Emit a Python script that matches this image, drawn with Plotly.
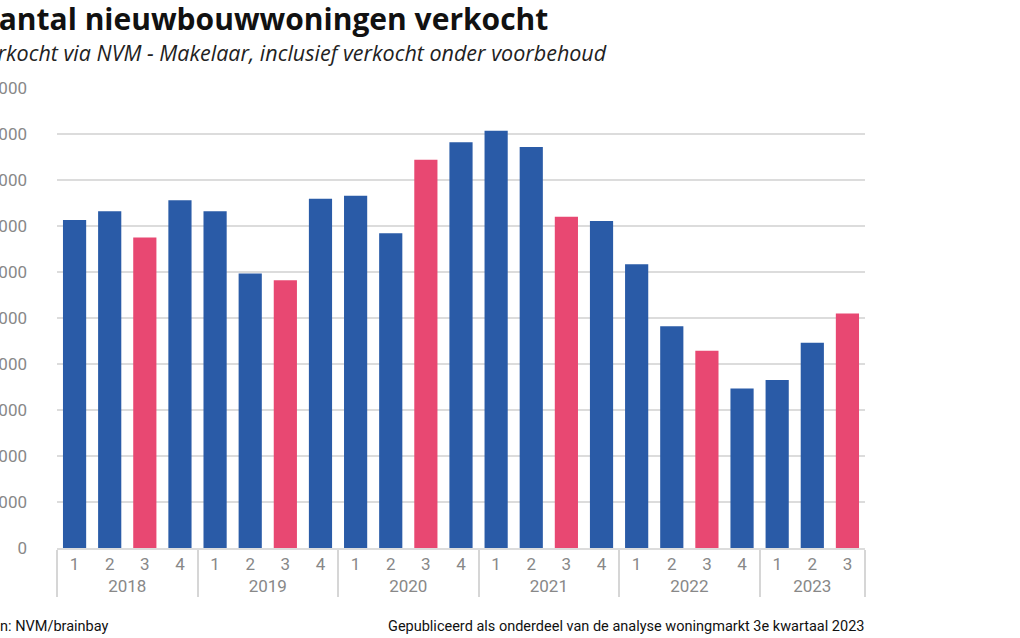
import plotly.graph_objects as go

years = ["2018"] * 4 + ["2019"] * 4 + ["2020"] * 4 + ["2021"] * 4 + ["2022"] * 4 + ["2023"] * 3
quarters = ["1", "2", "3", "4"] * 5 + ["1", "2", "3"]
sold = [7130, 7320, 6750, 7560,
        7320, 5970, 5820, 7590,
        7660, 6840, 8440, 8820,
        9070, 8720, 7200, 7110,
        6170, 4820, 4290, 3470,
        3650, 4460, 5100]
y_ticks = [0, 1000, 2000, 3000, 4000, 5000, 6000, 7000, 8000, 9000, 10000]
y_tick_text = ["0", "1.000", "2.000", "3.000", "4.000", "5.000", "6.000", "7.000", "8.000", "9.000", "10.000"]

title = "Aantal nieuwbouwwoningen verkocht"
subtitle = "Verkocht via NVM - Makelaar, inclusief verkocht onder voorbehoud"
source = "Bron: NVM/brainbay"
note = "Gepubliceerd als onderdeel van de analyse woningmarkt 3e kwartaal 2023"

BLUE = "#2a5ba7"
PINK = "#e84872"
colors = [PINK if q == "3" else BLUE for q in quarters]

W, H = 1020, 638
L, R, T, B = 57, 865, 88, 548


def px(p):
    return (p - L) / (R - L)


def py(p):
    return (B - p) / (B - T)


fig = go.Figure(go.Bar(x=[years, quarters], y=sold, marker_color=colors, marker_line_width=0,
                       hoverinfo="skip"))

fig.update_layout(
    width=W, height=H,
    margin=dict(l=L, r=W - R, t=T, b=H - B, autoexpand=False),
    paper_bgcolor="white", plot_bgcolor="white",
    bargap=0.34,
    showlegend=False,
    font=dict(family="Roboto, sans-serif", color="#888888", size=16),
)
fig.update_yaxes(
    range=[0, 10000], tickvals=y_ticks, ticktext=y_tick_text, automargin=False,
    showgrid=True, gridcolor="#dcdcdc", gridwidth=2, zeroline=False,
    ticklabelstandoff=29, tickfont=dict(family="Roboto, sans-serif", size=17, color="#888888"),
)
fig.update_xaxes(
    type="multicategory", showline=True, linecolor="#dcdcdc", linewidth=2, automargin=False,
    showdividers=True, dividercolor="#d6d6d6", dividerwidth=2,
    tickfont=dict(family="Roboto, sans-serif", size=17, color="#888888"),
)

fig.add_annotation(text="<b>" + title + "</b>", xref="paper", yref="paper",
                   x=px(-24), y=py(18), xanchor="left", yanchor="middle", showarrow=False,
                   font=dict(family="Open Sans, sans-serif", size=30, color="#111111"))
fig.add_annotation(text="<i>" + subtitle + "</i>", xref="paper", yref="paper",
                   x=px(-27), y=py(52), xanchor="left", yanchor="middle", showarrow=False,
                   font=dict(family="Open Sans, sans-serif", size=21.5, color="#222222"))
fig.add_annotation(text=source, xref="paper", yref="paper",
                   x=px(-24), y=py(626), xanchor="left", yanchor="middle", showarrow=False,
                   font=dict(family="Roboto, sans-serif", size=14.5, color="#111111"))
fig.add_annotation(text=note, xref="paper", yref="paper",
                   x=px(866), y=py(626), xanchor="right", yanchor="middle", showarrow=False,
                   font=dict(family="Roboto, sans-serif", size=14.5, color="#111111"))

fig.write_html("out.html", config={"displayModeBar": False},
               post_script="document.body.style.margin='0';document.body.style.overflow='hidden';")
